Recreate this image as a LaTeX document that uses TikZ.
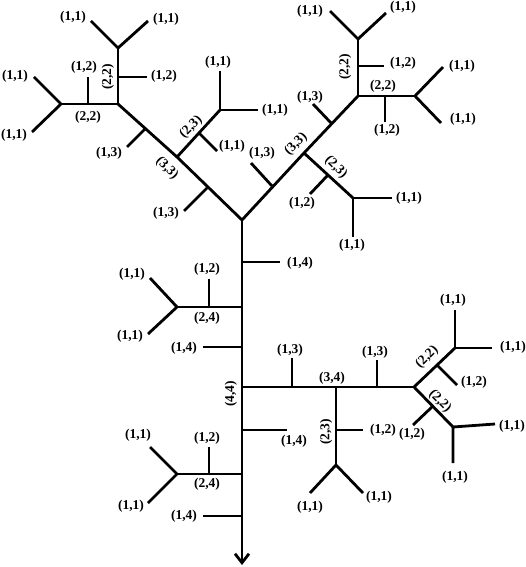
\documentclass[tikz,border=0pt]{standalone}
\usepackage{fontspec}
\setmainfont{Liberation Serif}
\usetikzlibrary{arrows.meta}

\begin{document}
\begin{tikzpicture}[
    x=1pt, y=-1pt,
    branch/.style={line width=2.8pt, line join=miter},
    trunk/.style={
        line width=2.8pt,
        -{Straight Barb[length=9pt,width=14pt]}
    },
    lbl/.style={font=\fontsize{13.5}{15}\selectfont\bfseries, inner sep=0pt}
]
\useasboundingbox (0,0) rectangle (526,567);

% points of the left subtree
\coordinate (root) at (242,220);
\coordinate (la) at (207,188);  \coordinate (lae) at (184,211);
\coordinate (l33) at (177,157);
\coordinate (lb) at (199,133);  \coordinate (lbe) at (217,151);
\coordinate (l23) at (220,110); \coordinate (l23u) at (220,71); \coordinate (l23r) at (258,110);
\coordinate (lc) at (145,129);  \coordinate (lce) at (127,147);
\coordinate (l22) at (118,104);
\coordinate (ld) at (118,77);   \coordinate (lde) at (147,77);
\coordinate (l22u) at (118,48); \coordinate (l22ua) at (91,21); \coordinate (l22ub) at (148,21);
\coordinate (le) at (88,104);   \coordinate (lee) at (88,77);
\coordinate (l22l) at (61,104); \coordinate (l22la) at (34,77); \coordinate (l22lb) at (32,132);

% points of the right subtree
\coordinate (ra) at (272,186);  \coordinate (rae) at (251,163);
\coordinate (r33) at (304,153);
\coordinate (rb) at (328,175);  \coordinate (rbe) at (310,194);
\coordinate (r23) at (353,198); \coordinate (r23r) at (392,198); \coordinate (r23d) at (353,237);
\coordinate (rc) at (332,124);  \coordinate (rce) at (313,104);
\coordinate (r22) at (358,96);
\coordinate (rd) at (358,66);   \coordinate (rde) at (384,66);
\coordinate (r22u) at (358,39); \coordinate (r22ua) at (330,11); \coordinate (r22ub) at (386,13);
\coordinate (re) at (385,96);   \coordinate (ree) at (385,122);
\coordinate (r22r) at (415,96); \coordinate (r22ra) at (443,67); \coordinate (r22rb) at (441,123);

% points along the trunk
\coordinate (tip) at (242,565);
\coordinate (ta) at (242,262);  \coordinate (tae) at (280,262);
\coordinate (tb) at (242,307);  \coordinate (u24) at (177,307);
\coordinate (uf) at (209,307);  \coordinate (ufe) at (209,279);
\coordinate (u24a) at (150,278); \coordinate (u24b) at (148,334);
\coordinate (tc) at (242,347);  \coordinate (tce) at (203,347);
\coordinate (m) at (242,387);   \coordinate (m34) at (336,387); \coordinate (m22) at (414,387);
\coordinate (ma) at (292,387);  \coordinate (mae) at (292,358);
\coordinate (mb) at (377,387);  \coordinate (mbe) at (377,360);
\coordinate (m23) at (336,465); \coordinate (mc) at (336,430);  \coordinate (mce) at (363,430);
\coordinate (m23a) at (310,493); \coordinate (m23b) at (363,493);
\coordinate (m22u) at (455,348);
\coordinate (mu) at (437,365);  \coordinate (mue) at (457,385);
\coordinate (m22ua) at (455,310); \coordinate (m22ub) at (492,348);
\coordinate (m22d) at (453,427);
\coordinate (md) at (433,406);  \coordinate (mde) at (413,425);
\coordinate (m22da) at (495,424); \coordinate (m22db) at (453,463);
\coordinate (td) at (242,430);  \coordinate (tde) at (287,430);
\coordinate (te) at (242,474);  \coordinate (d24) at (177,474);
\coordinate (df) at (209,474);  \coordinate (dfe) at (209,447);
\coordinate (d24a) at (150,447); \coordinate (d24b) at (148,503);
\coordinate (tf) at (242,516);  \coordinate (tfe) at (203,516);

% left subtree
\draw[branch] (root) -- (l33) -- (l22);
\draw[branch] (la) -- (lae);
\draw[branch] (lc) -- (lce);
\draw[branch] (l33) -- (l23);
\draw[branch] (lb) -- (lbe);
\draw[branch] (l23u) -- (l23) -- (l23r);
\draw[branch] (l22) -- (l22u);
\draw[branch] (ld) -- (lde);
\draw[branch] (l22ua) -- (l22u) -- (l22ub);
\draw[branch] (l22) -- (l22l);
\draw[branch] (le) -- (lee);
\draw[branch] (l22la) -- (l22l) -- (l22lb);

% right subtree
\draw[branch] (root) -- (r33) -- (r22);
\draw[branch] (ra) -- (rae);
\draw[branch] (rc) -- (rce);
\draw[branch] (r33) -- (r23);
\draw[branch] (rb) -- (rbe);
\draw[branch] (r23d) -- (r23) -- (r23r);
\draw[branch] (r22) -- (r22u);
\draw[branch] (rd) -- (rde);
\draw[branch] (r22ua) -- (r22u) -- (r22ub);
\draw[branch] (r22) -- (r22r);
\draw[branch] (re) -- (ree);
\draw[branch] (r22ra) -- (r22r) -- (r22rb);

% trunk and its branches
\draw[trunk] (root) -- (tip);
\draw[branch] (ta) -- (tae);
\draw[branch] (tb) -- (u24);
\draw[branch] (uf) -- (ufe);
\draw[branch] (u24a) -- (u24) -- (u24b);
\draw[branch] (tc) -- (tce);
\draw[branch] (m) -- (m22);
\draw[branch] (ma) -- (mae);
\draw[branch] (mb) -- (mbe);
\draw[branch] (m34) -- (m23);
\draw[branch] (mc) -- (mce);
\draw[branch] (m23a) -- (m23) -- (m23b);
\draw[branch] (m22) -- (m22u);
\draw[branch] (mu) -- (mue);
\draw[branch] (m22ua) -- (m22u) -- (m22ub);
\draw[branch] (m22) -- (m22d);
\draw[branch] (md) -- (mde);
\draw[branch] (m22da) -- (m22d) -- (m22db);
\draw[branch] (td) -- (tde);
\draw[branch] (te) -- (d24);
\draw[branch] (df) -- (dfe);
\draw[branch] (d24a) -- (d24) -- (d24b);
\draw[branch] (tf) -- (tfe);

% labels, left subtree
\node[lbl] (n1) at (73,17) {(1,1)};
\node[lbl] (n2) at (166,19) {(1,1)};
\node[lbl] (n3) at (164,76) {(1,2)};
\node[lbl, rotate=90] (n4) at (108,77) {(2,2)};
\node[lbl] (n5) at (84,67) {(1,2)};
\node[lbl] (n6) at (88,117) {(2,2)};
\node[lbl] (n7) at (15,76) {(1,1)};
\node[lbl] (n8) at (14,135) {(1,1)};
\node[lbl] (n9) at (109,153) {(1,3)};
\node[lbl, rotate=45] (n10) at (191,127) {(2,3)};
\node[lbl, rotate=-45] (n11) at (167,168) {(3,3)};
\node[lbl] (n12) at (232,146) {(1,1)};
\node[lbl] (n13) at (218,62) {(1,1)};
\node[lbl] (n14) at (275,110) {(1,1)};
\node[lbl] (n15) at (166,213) {(1,3)};

% labels, right subtree
\node[lbl] (n16) at (262,153) {(1,3)};
\node[lbl, rotate=45] (n17) at (296,144) {(3,3)};
\node[lbl, rotate=-45] (n18) at (336,167) {(2,3)};
\node[lbl] (n19) at (302,203) {(1,2)};
\node[lbl] (n20) at (409,198) {(1,1)};
\node[lbl] (n21) at (352,245) {(1,1)};
\node[lbl] (n22) at (310,97) {(1,3)};
\node[lbl] (n23) at (310,11) {(1,1)};
\node[lbl] (n24) at (403,7) {(1,1)};
\node[lbl] (n25) at (403,63) {(1,2)};
\node[lbl, rotate=90] (n26) at (345,67) {(2,2)};
\node[lbl] (n27) at (383,86) {(2,2)};
\node[lbl] (n28) at (387,130) {(1,2)};
\node[lbl] (n29) at (462,66) {(1,1)};
\node[lbl] (n30) at (463,119) {(1,1)};

% labels along the trunk
\node[lbl] (n31) at (300,263) {(1,4)};
\node[lbl] (n32) at (207,269) {(1,2)};
\node[lbl] (n33) at (207,318) {(2,4)};
\node[lbl] (n34) at (132,274) {(1,1)};
\node[lbl] (n35) at (130,336) {(1,1)};
\node[lbl] (n36) at (184,348) {(1,4)};
\node[lbl] (n37) at (290,350) {(1,3)};
\node[lbl] (n38) at (332,378) {(3,4)};
\node[lbl] (n39) at (375,352) {(1,3)};
\node[lbl] (n40) at (383,430) {(1,2)};
\node[lbl, rotate=90] (n41) at (326,432) {(2,3)};
\node[lbl] (n42) at (310,507) {(1,1)};
\node[lbl] (n43) at (379,497) {(1,1)};
\node[lbl] (n44) at (294,441) {(1,4)};
\node[lbl, rotate=90] (n45) at (231,394) {(4,4)};
\node[lbl, rotate=45] (n46) at (427,357) {(2,2)};
\node[lbl] (n47) at (474,382) {(1,2)};
\node[lbl] (n48) at (453,300) {(1,1)};
\node[lbl] (n49) at (513,347) {(1,1)};
\node[lbl, rotate=-45] (n50) at (440,401) {(2,2)};
\node[lbl] (n51) at (412,434) {(1,2)};
\node[lbl] (n52) at (512,426) {(1,1)};
\node[lbl] (n53) at (455,477) {(1,1)};
\node[lbl] (n54) at (207,438) {(1,2)};
\node[lbl] (n55) at (207,484) {(2,4)};
\node[lbl] (n56) at (138,435) {(1,1)};
\node[lbl] (n57) at (131,506) {(1,1)};
\node[lbl] (n58) at (184,516) {(1,4)};
\end{tikzpicture}
\end{document}
